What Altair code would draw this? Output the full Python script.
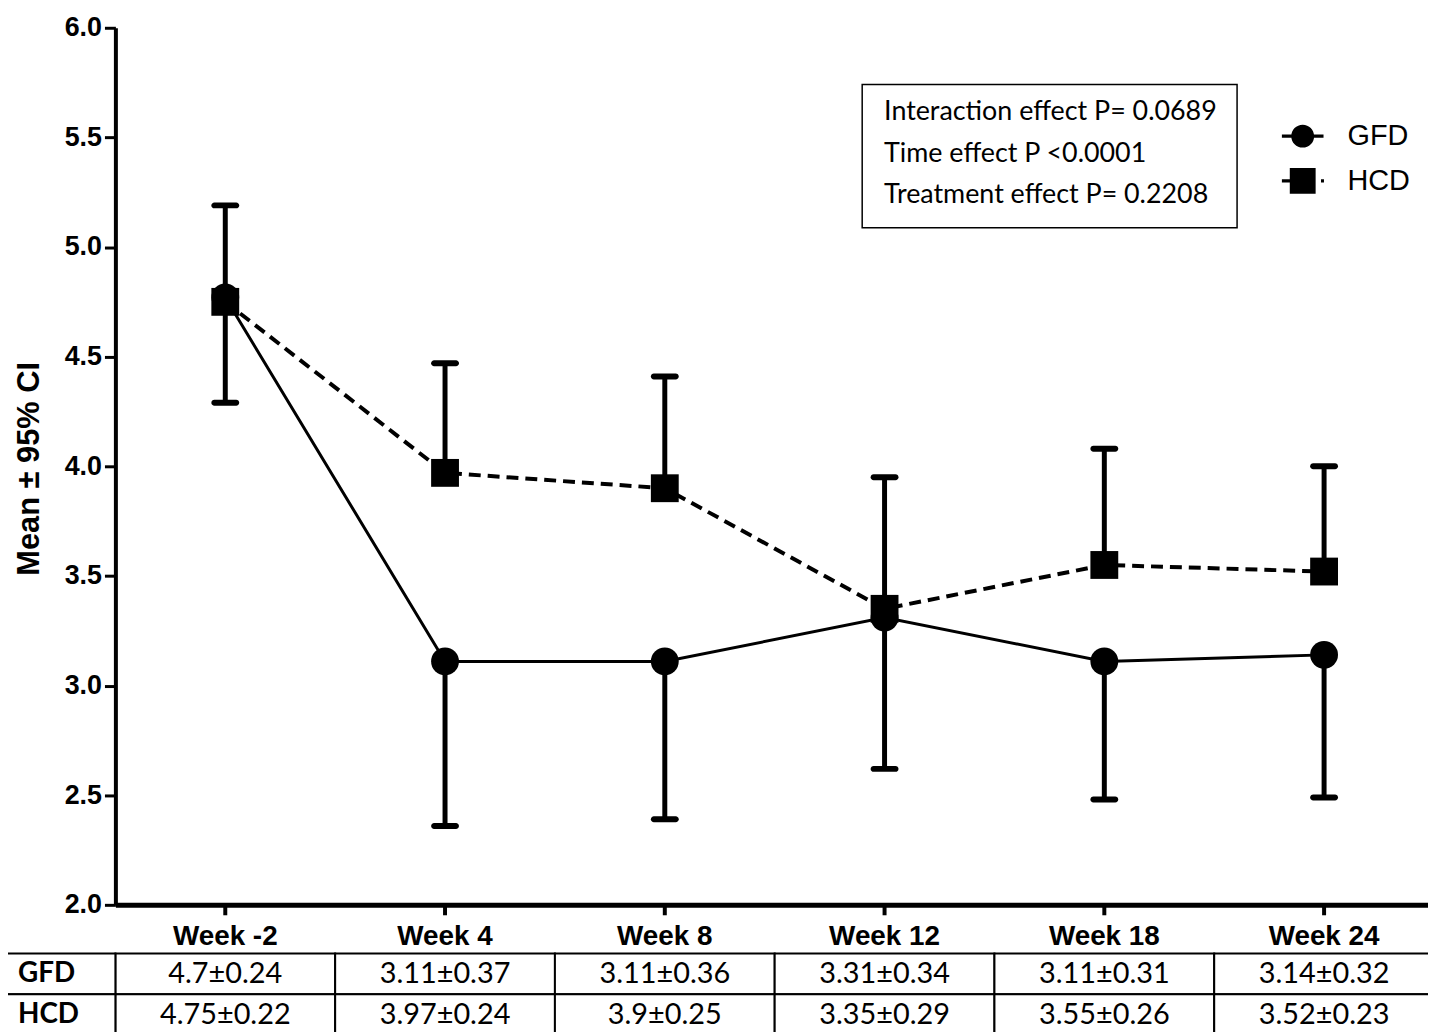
import altair as alt
import pandas as pd

WEEKS = ["Week -2", "Week 4", "Week 8", "Week 12", "Week 18", "Week 24"]
SERIES = ["GFD", "HCD"]
GFD_MEAN = [4.77, 3.11, 3.11, 3.31, 3.11, 3.14]
HCD_MEAN = [4.75, 3.97, 3.90, 3.35, 3.55, 3.52]
GFD_CI_END = [4.29, 2.36, 2.39, 2.62, 2.48, 2.49]   # lower CI limit shown for GFD
HCD_CI_END = [5.19, 4.47, 4.41, 3.95, 4.08, 4.00]   # upper CI limit shown for HCD
GFD_TABLE = ["4.7±0.24", "3.11±0.37", "3.11±0.36", "3.31±0.34", "3.11±0.31", "3.14±0.32"]
HCD_TABLE = ["4.75±0.22", "3.97±0.24", "3.9±0.25", "3.35±0.29", "3.55±0.26", "3.52±0.23"]
STATS_LINES = ["Interaction effect P= 0.0689", "Time effect P <0.0001", "Treatment effect P= 0.2208"]
Y_TICKS = [2.0, 2.5, 3.0, 3.5, 4.0, 4.5, 5.0, 5.5, 6.0]
Y_TITLE = "Mean ± 95% CI"

rows = []
for s, means, ends, txts in [("GFD", GFD_MEAN, GFD_CI_END, GFD_TABLE),
                             ("HCD", HCD_MEAN, HCD_CI_END, HCD_TABLE)]:
    for w, m, e, t in zip(WEEKS, means, ends, txts):
        rows.append({"week": w, "series": s, "mean": m, "end": e, "txt": t})
df = pd.DataFrame(rows)

ARIAL = "Liberation Sans, Arial"
CAL = "Lato, Carlito, Calibri"

# the source's x axis runs slightly past the right edge of the picture
xscale = alt.Scale(type="band", domain=WEEKS, range=[0, 1326], paddingInner=0, paddingOuter=0)
xaxis = alt.Axis(orient="bottom", labelFont=ARIAL, labelFontSize=28, labelFontWeight="bold",
                 labelColor="black", labelAngle=0, labelPadding=8, tickSize=10, tickWidth=4,
                 tickColor="black", domainWidth=5, domainColor="black", grid=False)
X = alt.X("week:N", scale=xscale, axis=xaxis, title=None, sort=WEEKS)

yscale = alt.Scale(domain=[2, 6], nice=False, zero=False)
yaxis = alt.Axis(values=Y_TICKS, format=".1f", labelFont=ARIAL, labelFontSize=27,
                 labelFontWeight="bold", labelColor="black", labelPadding=3, tickSize=11,
                 tickWidth=3, tickColor="black", domainWidth=4, domainColor="black",
                 grid=False, title=Y_TITLE, titleFont=ARIAL, titleFontSize=31,
                 titleFontWeight="bold", titleColor="black", titleAngle=270,
                 titleBaseline="middle", titleX=-86, titleY=443)

base = alt.Chart(df)

err = base.mark_rule(color="black", strokeWidth=5).encode(
    x=X, y=alt.Y("mean:Q", scale=yscale, axis=yaxis), y2="end:Q")
caps = base.mark_tick(color="black", size=28, thickness=6, cornerRadius=3, opacity=1).encode(
    x=X, y=alt.Y("end:Q", scale=yscale, axis=yaxis))
line_gfd = base.transform_filter(alt.datum.series == "GFD").mark_line(
    color="black", strokeWidth=3).encode(x=X, y=alt.Y("mean:Q", scale=yscale, axis=yaxis))
line_hcd = base.transform_filter(alt.datum.series == "HCD").mark_line(
    color="black", strokeWidth=4, strokeDash=[12, 7]).encode(
    x=X, y=alt.Y("mean:Q", scale=yscale, axis=yaxis))
points = base.mark_point(filled=True, color="black", opacity=1, size=784).encode(
    x=X, y=alt.Y("mean:Q", scale=yscale, axis=yaxis),
    shape=alt.Shape("series:N", scale=alt.Scale(domain=SERIES, range=["circle", "square"]),
                    legend=None))

# legend symbols: marker with its connecting-line stub, like the source graph
LEG_PATHS = [
    "M-0.91,-0.07L-0.45,-0.07L-0.45,0.07L-0.91,0.07Z"
    "M0.45,-0.07L0.91,-0.07L0.91,0.07L0.45,0.07Z"
    "M-0.5,0A0.5,0.5 0 1,1 0.5,0A0.5,0.5 0 1,1 -0.5,0Z",
    "M-0.91,-0.07L-0.5,-0.07L-0.5,0.07L-0.91,0.07Z"
    "M-0.565,-0.565L0.565,-0.565L0.565,0.565L-0.565,0.565Z"
    "M0.8,-0.07L0.93,-0.07L0.93,0.07L0.8,0.07Z",
]
legend_layer = base.mark_point(filled=True, color="black", opacity=0, size=10).encode(
    x=X, y=alt.Y("mean:Q", scale=yscale, axis=yaxis),
    shape=alt.Shape("series:N", scale=alt.Scale(domain=SERIES, range=LEG_PATHS),
                    legend=alt.Legend(orient="none", legendX=1170, legendY=85, title=None,
                                      labelFont=ARIAL, labelFontSize=29, labelColor="black",
                                      symbolSize=2116, symbolFillColor="black",
                                      symbolOpacity=1, rowPadding=6, labelOffset=21,
                                      padding=0)))

one = pd.DataFrame({"k": [0]})
box = alt.Chart(one).mark_rect(fill="white", fillOpacity=0, stroke="black", strokeWidth=1.5).encode(
    x=alt.value(751), x2=alt.value(1128), y=alt.value(57), y2=alt.value(201))
stats = alt.Chart(one).mark_text(align="left", baseline="alphabetic", font=CAL, fontSize=27,
                                 lineHeight=41.5, color="black").encode(
    x=alt.value(773), y=alt.value(93), text=alt.value(STATS_LINES))

main = alt.layer(err, caps, line_gfd, line_hcd, points, legend_layer, box, stats).resolve_scale(
    shape="independent")

tscale = alt.Scale(type="band", domain=SERIES, range=[931, 1013], paddingInner=0, paddingOuter=0)
TY = alt.Y("series:N", scale=tscale, axis=None)
cells = base.mark_rect(fill="white", stroke="black", strokeWidth=2).encode(x=X, y=TY)
vals = base.mark_text(font=CAL, fontSize=29, color="black").encode(x=X, y=TY, text="txt:N")
lab_df = pd.DataFrame({"series": SERIES})
lab_cells = alt.Chart(lab_df).mark_rect(fill="white", stroke="black", strokeWidth=2).encode(
    x=alt.value(-110), x2=alt.value(0), y=TY)
lab_txt = alt.Chart(lab_df).mark_text(align="left", font=CAL, fontSize=28, fontWeight="bold",
                                      color="black").encode(x=alt.value(-98), y=TY, text="series:N")
table = alt.layer(cells, vals, lab_cells, lab_txt)

chart = alt.layer(main, table).resolve_scale(y="independent").properties(
    width=1320, height=882,
    autosize=alt.AutoSizeParams(type="none"),
    padding={"left": 108, "top": 17, "right": 0, "bottom": 125},
).configure_view(stroke=None).configure_axis(grid=False)

chart.save("out.html", embed_options={"renderer": "svg", "actions": False})
